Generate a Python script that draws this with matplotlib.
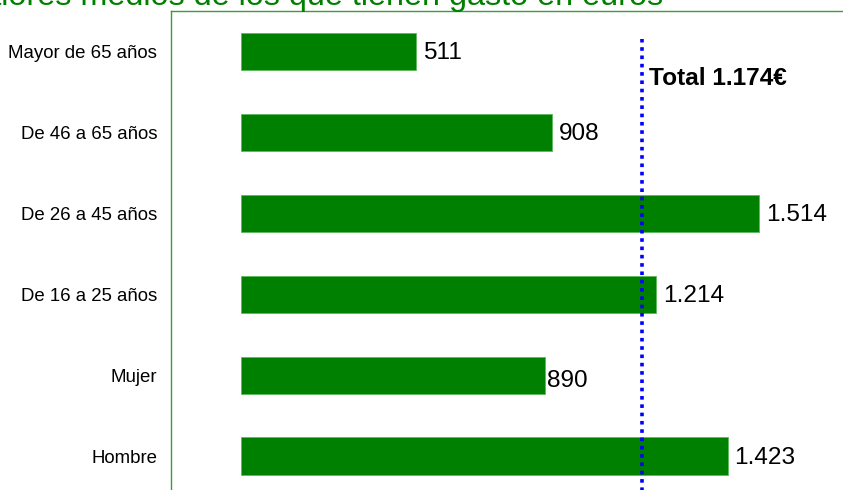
import matplotlib.pyplot as plt

plt.rcParams['font.family'] = ['Liberation Sans', 'DejaVu Sans']

title = "Valores medios de los que tienen gasto en euros"
categories = ['Hombre', 'Mujer', 'De 16 a 25 años', 'De 26 a 45 años',
              'De 46 a 65 años', 'Mayor de 65 años']
values = [1423, 890, 1214, 1514, 908, 511]
total = 1174
total_label = "Total 1.174€"


def fmt(v):
    return f"{v:,}".replace(',', '.')


fig = plt.figure(figsize=(8.43, 4.90), dpi=100)
W, H = 843, 490

# axes box in pixels: left 171, top 11, runs past the right and bottom edge
left, right, top, bottom = 171, 850, 11, 496.5
ax = fig.add_axes([left / W, 1 - bottom / H, (right - left) / W, (bottom - top) / H])

pos = list(range(len(categories)))
ax.barh(pos, values, height=0.46, color='#008000', edgecolor='#5cb85c', linewidth=0.6, zorder=2)

ax.set_xlim(-205, 1781)
ax.set_ylim(-0.5, 5.5)

# odd label placement in the original for "Mujer"
pad_px = {'Mujer': 1.5}
drop_px = {'Mujer': 6}
for p, v, c in zip(pos, values, categories):
    dx = pad_px.get(c, 7) * 0.72
    dy = -(drop_px.get(c, 2)) * 0.72
    ax.annotate(fmt(v), (v, p), xytext=(dx, dy), textcoords='offset points',
                ha='left', va='center', fontsize=17.6, color='black', zorder=4)

ax.plot([total, total], [-0.8, 5.15], color='#0000ff', linewidth=2.6,
        linestyle=(0, (1, 1.3)), dash_capstyle='butt', zorder=3)
ax.annotate(total_label, (total, 4.67), xytext=(5, 0), textcoords='offset points',
            ha='left', va='center', fontsize=17.6, fontweight='bold', color='black')

ax.set_yticks(pos)
ax.set_yticklabels(categories, fontsize=13.4)
ax.tick_params(axis='y', length=0, pad=10)
ax.set_xticks([])
for s in ax.spines.values():
    s.set_color('#3c9c3c')
    s.set_linewidth(1)

# title sits mostly above the top edge of the picture, as in the original
fig.text(-36 / W, 1 - 5.5 / H, title, fontsize=23.3, color='#008000',
         ha='left', va='baseline')

fig.savefig('out.png', dpi=100)
